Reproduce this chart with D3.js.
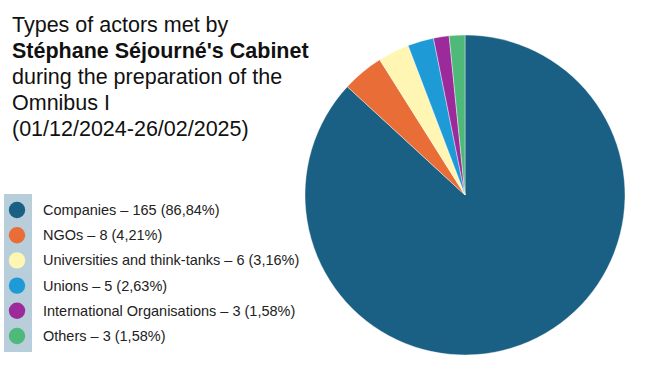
<!DOCTYPE html>
<html><head><meta charset="utf-8">
<script src="https://cdn.jsdelivr.net/npm/d3@7"></script>
<style>body{margin:0;background:#fff}svg{display:block}</style>
</head><body>
<svg id="c" width="652" height="376"></svg>
<script>
const categories = ["Companies","NGOs","Universities and think-tanks","Unions","International Organisations","Others"];
const values = [165, 8, 6, 5, 3, 3];
const percents = ["86,84%","4,21%","3,16%","2,63%","1,58%","1,58%"];
const colors = ["#1a5f84","#e96d36","#fff6b4","#1e9bd6","#9c2a9a","#4eb979"];
const titleLines = [
  {t:"Types of actors met by", b:false},
  {t:"Stéphane Séjourné's Cabinet", b:true},
  {t:"during the preparation of the", b:false},
  {t:"Omnibus I", b:false},
  {t:"(01/12/2024-26/02/2025)", b:false}
];

const svg = d3.select("#c");
const font = "'Liberation Sans', Arial, sans-serif";

// Title
svg.append("g").selectAll("text").data(titleLines).join("text")
  .attr("x", 12).attr("y", (d,i)=>32 + i*26)
  .attr("font-family", font).attr("font-size", 21.5)
  .attr("font-weight", d=>d.b?"bold":"normal")
  .attr("fill", "#111")
  .text(d=>d.t);

// Pie
const cx = 465, cy = 195, r = 160;
const pie = d3.pie().sort(null).value(d=>d)(values);
const arc = d3.arc().innerRadius(0).outerRadius(r);
svg.append("g").attr("transform", `translate(${cx},${cy})`)
  .selectAll("path").data(pie).join("path")
  .attr("d", arc)
  .attr("fill", (d,i)=>colors[i])
  .attr("stroke", "#fff").attr("stroke-width", 0.4);

// Legend
const rowY = d3.scalePoint().domain(d3.range(categories.length)).range([210, 336]);
svg.append("rect").attr("x", 4).attr("y", 194).attr("width", 28).attr("height", 158).attr("fill", "#b8cedb");
const lg = svg.append("g");
lg.selectAll("circle").data(categories).join("circle")
  .attr("cx", 17).attr("cy", (d,i)=>rowY(i)).attr("r", 8.2)
  .attr("fill", (d,i)=>colors[i]);
lg.selectAll("text").data(categories).join("text")
  .attr("x", 43).attr("y", (d,i)=>rowY(i)+5)
  .attr("font-family", font).attr("font-size", 14.5).attr("fill", "#222")
  .text((d,i)=>`${d} – ${values[i]} (${percents[i]})`);
</script>
</body></html>
